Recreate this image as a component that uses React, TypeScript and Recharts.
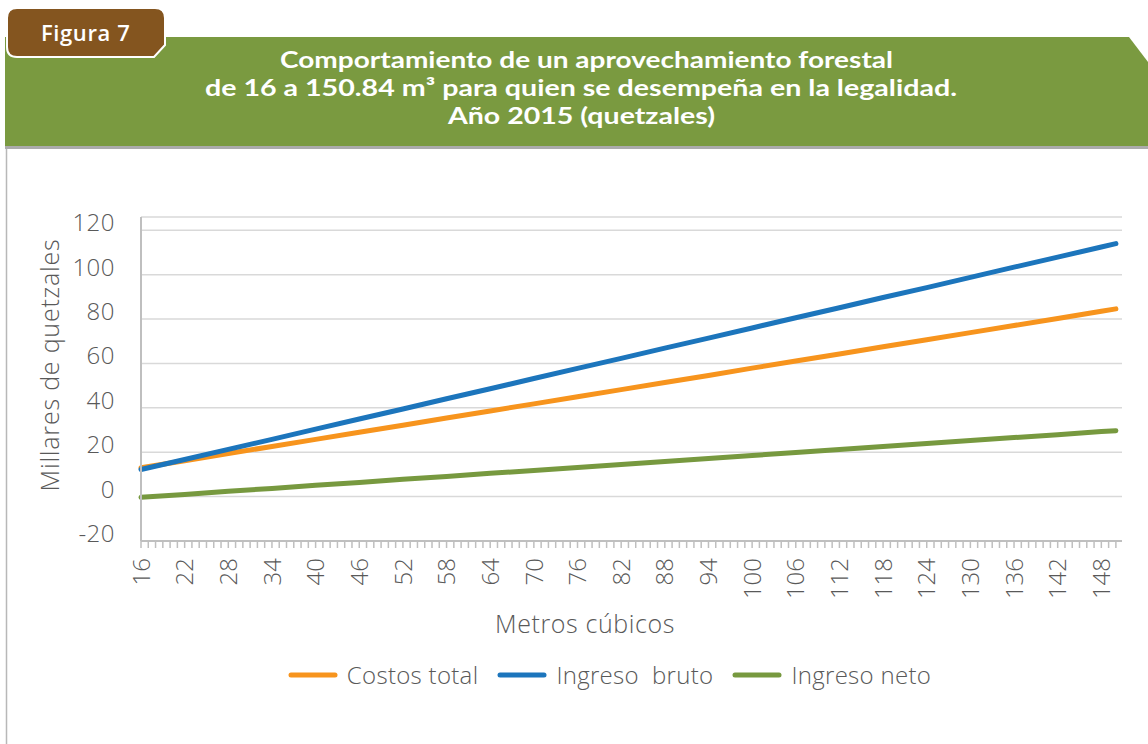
import { LineChart, Line, XAxis, YAxis, CartesianGrid, Legend } from "recharts";

// Metros cúbicos (x) and values in millares de quetzales
const metros = [16, 22, 28, 34, 40, 46, 52, 58, 64, 70, 76, 82, 88, 94, 100, 106, 112, 118, 124, 130, 136, 142, 148, 150];
const costosTotal = [13.0, 16.2, 19.4, 22.6, 25.8, 29.0, 32.2, 35.4, 38.6, 41.8, 45.0, 48.2, 51.4, 54.6, 57.9, 61.1, 64.3, 67.5, 70.7, 73.9, 77.1, 80.3, 83.5, 84.6];
const ingresoBruto = [12.2, 16.7, 21.3, 25.8, 30.4, 35.0, 39.5, 44.1, 48.6, 53.2, 57.8, 62.3, 66.9, 71.4, 76.0, 80.6, 85.1, 89.7, 94.2, 98.8, 103.4, 107.9, 112.5, 114.0];
const ingresoNeto = [-0.3, 1.0, 2.4, 3.7, 5.1, 6.4, 7.8, 9.1, 10.5, 11.8, 13.1, 14.5, 15.8, 17.2, 18.5, 19.9, 21.2, 22.6, 23.9, 25.3, 26.6, 27.9, 29.3, 29.7];

const xLabels = [16, 22, 28, 34, 40, 46, 52, 58, 64, 70, 76, 82, 88, 94, 100, 106, 112, 118, 124, 130, 136, 142, 148];
const yTicks = [-20, 0, 20, 40, 60, 80, 100, 120];
// one small tick per cubic metre on the category axis
const minorTicks = Array.from({ length: 135 }, (_, i) => 16 + i);

const titleLines = [
  "Comportamiento de un aprovechamiento forestal",
  "de 16 a 150.84 m³ para quien se desempeña en la legalidad.",
  "Año 2015 (quetzales)",
];

const data = metros.map((m, i) => ({
  m,
  costos: costosTotal[i],
  bruto: ingresoBruto[i],
  neto: ingresoNeto[i],
}));

const FONT = "'Open Sans', Lato, sans-serif";
const TITLE_FONT = "Lato, 'Open Sans', sans-serif";
const GREY = "#595959";

const XTick = ({ x, y, payload }: any) => {
  if (!xLabels.includes(payload.value)) return null;
  return (
    <g transform={`translate(${x},${y})`}>
      <text transform="rotate(-90)" x={0} y={0} dy="0.36em" textAnchor="end"
        fill={GREY} fontSize={24} fontFamily={FONT} fontWeight={300}>
        {payload.value}
      </text>
    </g>
  );
};

const YTick = ({ x, y, payload }: any) => (
  <text x={x} y={y} dy={1} textAnchor="end" fill={GREY} fontSize={24} fontFamily={FONT} fontWeight={300} letterSpacing={0.5}>
    {payload.value}
  </text>
);

const LegendContent = ({ payload }: any) => (
  <div style={{ display: "flex", justifyContent: "center", alignItems: "center", paddingLeft: 90 }}>
    {payload.map((p: any, i: number) => (
      <div key={i} style={{ display: "flex", alignItems: "center", marginRight: 19 }}>
        <svg width={50} height={8} style={{ marginRight: 9 }}>
          <line x1={3} y1={4} x2={47} y2={4} stroke={p.color} strokeWidth={5} strokeLinecap="round" />
        </svg>
        <span style={{ fontFamily: FONT, fontWeight: 300, fontSize: 24, color: GREY, whiteSpace: "pre", letterSpacing: 0.3 }}>{p.value}</span>
      </div>
    ))}
  </div>
);

export default function App() {
  return (
    <div style={{ position: "absolute", left: 0, top: 0, width: 1148, height: 744, background: "#fff", overflow: "hidden" }}>
      <svg width={1148} height={744} style={{ position: "absolute", left: 0, top: 0 }}>
        <line x1={6.5} y1={146} x2={6.5} y2={744} stroke="#b8b8b8" strokeWidth={1.5} />
        <polygon points="5,37 1129,37 1148,62 1148,146 5,146" fill="#7A9A40" />
        <line x1={5} y1={147.5} x2={1148} y2={147.5} stroke="#ababab" strokeWidth={3} />
        <path d="M7,18 Q7,8 17,8 L155,8 Q165,8 165,18 L165,45 L154,57 L17,57 Q7,57 7,47 Z" fill="#84551F" stroke="#fff" strokeWidth={2} />
        <text x={41} y={41} fill="#fff" fontFamily={FONT} fontWeight={600} fontSize={22} letterSpacing={0.6}>Figura 7</text>
        <g fill="#fff" fontFamily={TITLE_FONT} fontWeight={700} fontSize={23}>
          <text x={280} y={68} textLength={613} lengthAdjust="spacingAndGlyphs">{titleLines[0]}</text>
          <text x={205} y={96} textLength={752} lengthAdjust="spacingAndGlyphs">{titleLines[1]}</text>
          <text x={448} y={124} textLength={267} lengthAdjust="spacingAndGlyphs">{titleLines[2]}</text>
        </g>
        <text transform="translate(59,365) rotate(-90)" textAnchor="middle" fill={GREY}
          fontFamily={FONT} fontWeight={300} fontSize={25} letterSpacing={0.8}>Millares de quetzales</text>
        <text x={585} y={633} textAnchor="middle" fill={GREY} fontFamily={FONT} fontWeight={300} fontSize={25} letterSpacing={0.6}>Metros cúbicos</text>
      </svg>
      <div style={{ position: "absolute", left: 0, top: 0 }}>
        <LineChart width={1148} height={744} data={data} margin={{ top: 217, right: 26, bottom: 143, left: 0 }}>
          <CartesianGrid horizontal vertical={false} stroke="#d9d9d9" strokeWidth={1.5} />
          <XAxis dataKey="m" type="number" domain={[16, 150.84]} ticks={minorTicks} interval={0}
            height={60} tick={<XTick />} tickSize={7} tickMargin={10}
            axisLine={{ stroke: "#bfbfbf", strokeWidth: 2 }} tickLine={{ stroke: "#bfbfbf", strokeWidth: 1.5 }} />
          <YAxis type="number" domain={[-20, 126]} ticks={yTicks} interval={0} width={141}
            tick={<YTick />} tickSize={0} tickMargin={26} tickLine={false}
            axisLine={{ stroke: "#bfbfbf", strokeWidth: 2 }} />
          <Line dataKey="costos" name="Costos total" stroke="#F7941D" strokeWidth={5} dot={false} strokeLinecap="round" isAnimationActive={false} />
          <Line dataKey="bruto" name="Ingreso  bruto" stroke="#1C75BC" strokeWidth={5} dot={false} strokeLinecap="round" isAnimationActive={false} />
          <Line dataKey="neto" name="Ingreso neto" stroke="#77993F" strokeWidth={5} dot={false} strokeLinecap="round" isAnimationActive={false} />
          <Legend layout="horizontal" verticalAlign="middle" align="center" content={<LegendContent />}
            wrapperStyle={{ top: 658, left: 0, width: 1148 }} />
        </LineChart>
      </div>
    </div>
  );
}
